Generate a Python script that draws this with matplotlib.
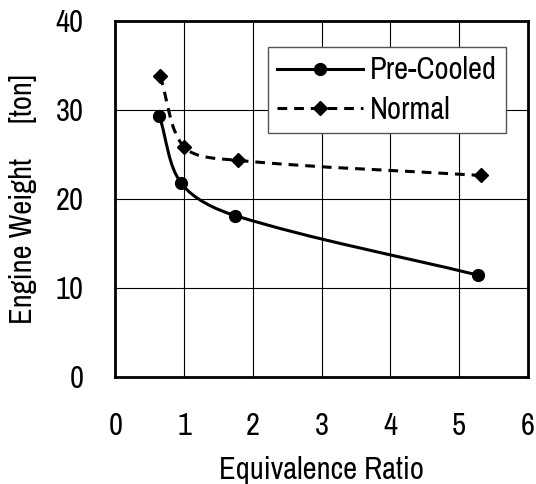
import numpy as np
import matplotlib
matplotlib.use('Agg')
import matplotlib.pyplot as plt
from matplotlib.path import Path
from matplotlib.patches import PathPatch
from matplotlib.lines import Line2D

plt.rcParams['font.family'] = ['Archivo Narrow', 'DejaVu Sans']
plt.rcParams['lines.scale_dashes'] = False

# data
pre_cooled_x = [0.64, 0.96, 1.74, 5.28]
pre_cooled_y = [29.3, 21.7, 18.1, 11.4]
normal_x = [0.65, 1.00, 1.78, 5.32]
normal_y = [33.8, 25.8, 24.3, 22.6]

x_ticks = [0, 1, 2, 3, 4, 5, 6]
y_ticks = [0, 10, 20, 30, 40]

FS = 22


def smooth_path(ax, xs, ys):
    # Excel-like smoothed line: bezier through each point, arms scaled by
    # the neighbouring segment lengths measured on screen
    to_px = ax.transData
    pts = to_px.transform(np.column_stack([xs, ys]))
    n = len(pts)
    verts = [pts[0]]
    codes = [Path.MOVETO]
    for i in range(n - 1):
        p0 = pts[max(i - 1, 0)]
        p1 = pts[i]
        p2 = pts[i + 1]
        p3 = pts[min(i + 2, n - 1)]
        d01 = np.hypot(*(p1 - p0))
        d12 = np.hypot(*(p2 - p1))
        d23 = np.hypot(*(p3 - p2))
        c1 = p1 + (p2 - p0) / 3.0 * d12 / max(d01 + d12, 1e-9)
        c2 = p2 - (p3 - p1) / 3.0 * d12 / max(d12 + d23, 1e-9)
        verts += [c1, c2, p2]
        codes += [Path.CURVE4] * 3
    verts = to_px.inverted().transform(np.array(verts))
    return Path(verts, codes)


fig = plt.figure(figsize=(5.36, 4.84), dpi=100)
ax = fig.add_axes([0.2153, 0.2217, 0.7692, 0.7359])

ax.set_xlim(0, 6)
ax.set_ylim(0, 40)
ax.set_xticks(x_ticks)
ax.set_yticks(y_ticks)
ax.grid(True, color='black', linewidth=0.8)
ax.set_axisbelow(True)
for s in ax.spines.values():
    s.set_linewidth(2.0)
ax.tick_params(length=0, labelsize=FS)
ax.tick_params(axis='x', pad=25.5)
ax.tick_params(axis='y', pad=23)

dash = (0, (7, 5))

ax.add_patch(PathPatch(smooth_path(ax, pre_cooled_x, pre_cooled_y), fill=False,
                       edgecolor='black', linewidth=2.2, zorder=3))
ax.add_patch(PathPatch(smooth_path(ax, normal_x, normal_y), fill=False,
                       edgecolor='black', linewidth=2.2, linestyle=dash, zorder=3))
ax.plot(pre_cooled_x, pre_cooled_y, 'o', color='black', markersize=8.5, zorder=4)
ax.plot(normal_x, normal_y, 'D', color='black', markersize=7, zorder=4)

handles = [
    Line2D([], [], color='black', linewidth=2.2, marker='o', markersize=8.5),
    Line2D([], [], color='black', linewidth=2.2, linestyle=dash, marker='D', markersize=7),
]
leg = ax.legend(handles, ['Pre-Cooled', 'Normal'], loc='upper right',
                bbox_to_anchor=(0.947, 0.925), fontsize=FS, frameon=True,
                fancybox=False, edgecolor='#555555', framealpha=1,
                handlelength=2.8, handletextpad=0.23, borderpad=0.3,
                labelspacing=0.38, borderaxespad=0)
leg.get_frame().set_linewidth(1.0)

ax.set_xlabel('Equivalence Ratio', fontsize=FS, labelpad=11.5)
ax.set_ylabel('Engine Weight     [ton]', fontsize=FS, labelpad=13)

fig.savefig('out.png', dpi=100)
